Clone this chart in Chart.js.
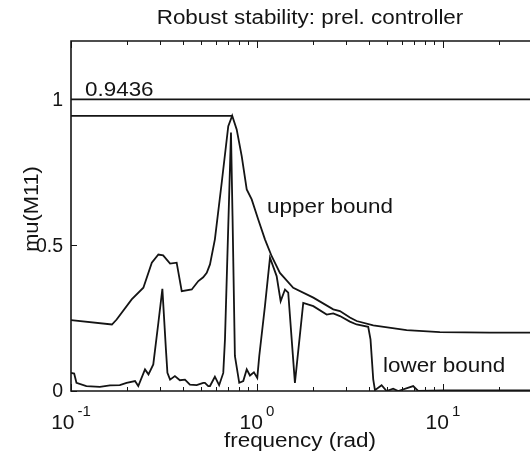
<!DOCTYPE html>
<html>
<head>
<meta charset="utf-8">
<script src="https://cdn.jsdelivr.net/npm/chart.js@4.4.1/dist/chart.umd.min.js"></script>
<style>
  html, body { margin: 0; padding: 0; background: #fff; }
  #wrap { width: 530px; height: 461px; }
</style>
</head>
<body>
<div id="wrap"><canvas id="chart" width="530" height="461"></canvas></div>
<script>
// values (frequency in rad, mu)
var upperFreq = [0.1, 0.166, 0.176, 0.212, 0.245, 0.272, 0.295, 0.313, 0.341, 0.37,
                 0.394, 0.446, 0.484, 0.514, 0.537, 0.559, 0.594, 0.648, 0.701, 0.736,
                 0.778, 0.828, 0.881, 0.937, 1.016, 1.104, 1.2, 1.329, 1.567, 2.01,
                 2.572, 2.794, 3.162, 3.436, 4.22, 6.38, 9.63, 17.9, 29.4];
var upperMu   = [0.243, 0.228, 0.245, 0.314, 0.354, 0.44, 0.468, 0.465, 0.437, 0.44,
                 0.342, 0.348, 0.377, 0.39, 0.405, 0.434, 0.52, 0.72, 0.908, 0.9436,
                 0.897, 0.805, 0.691, 0.657, 0.588, 0.52, 0.462, 0.405, 0.354, 0.32,
                 0.28, 0.274, 0.252, 0.24, 0.225, 0.209, 0.202, 0.2, 0.2];

var lowerFreq = [0.1, 0.104, 0.107, 0.121, 0.143, 0.162, 0.183, 0.199, 0.221, 0.23,
                 0.25, 0.261, 0.277, 0.295, 0.31, 0.324, 0.33, 0.341, 0.362, 0.385,
                 0.41, 0.436, 0.474, 0.514, 0.525, 0.547, 0.559, 0.594, 0.626, 0.659,
                 0.673, 0.725, 0.739, 0.761, 0.803, 0.844, 0.881, 0.917, 0.963, 1.004,
                 1.029, 1.104, 1.175, 1.276, 1.341, 1.415, 1.473, 1.6, 1.774, 2.01,
                 2.371, 2.572, 2.794, 3.162, 3.436, 3.965, 4.08, 4.22, 4.31, 4.68,
                 4.98, 5.4, 5.75, 6.92, 7.36, 10, 29.4];
var lowerMu   = [0.062, 0.06, 0.028, 0.017, 0.014, 0.019, 0.02, 0.028, 0.034, 0.017,
                 0.074, 0.057, 0.091, 0.234, 0.35, 0.142, 0.062, 0.039, 0.051, 0.037,
                 0.039, 0.022, 0.02, 0.028, 0.028, 0.017, 0.017, 0.049, 0.02, 0.062,
                 0.177, 0.886, 0.6, 0.12, 0.028, 0.034, 0.074, 0.053, 0.064, 0.045,
                 0.12, 0.291, 0.457, 0.394, 0.308, 0.348, 0.337, 0.028, 0.302, 0.291,
                 0.262, 0.266, 0.257, 0.238, 0.228, 0.22, 0.177, 0.04, 0.003, 0.02,
                 0.0, 0.008, 0.0, 0.017, 0.0, 0.002, 0.002];

// peak marker line and the mu = 1 reference
var peakFreq = [0.1, 0.736];
var peakMu = [0.9436, 0.9436];
var unityFreq = [0.1, 29.4];
var unityMu = [1, 1];

var xTicks = [0.1, 1, 10];
var xTickExp = ['-1', '0', '1'];
var yTicks = [0, 0.5, 1];
var yTickLabels = ['0', '0.5', '1'];

var ink = '#141414';
var fontName = '"Liberation Sans", Arial, sans-serif';

function toPoints(xs, ys) {
    return xs.map(function(x, i) { return { x: x, y: ys[i] }; });
}

// the scan's lettering is a bit wider than Arial, so stretch it sideways
function stretchText(ctx, text, x, y, size, align, sx) {
    ctx.save();
    ctx.font = size + 'px ' + fontName;
    ctx.textAlign = align;
    ctx.translate(x, y);
    ctx.scale(sx, 1);
    ctx.fillText(text, 0, 0);
    ctx.restore();
}

var matlabAxes = {
    id: 'matlabAxes',
    afterDraw: function(chart) {
        var ctx = chart.ctx;
        var area = chart.chartArea;
        var xs = chart.scales.x;
        var ys = chart.scales.y;

        ctx.save();
        ctx.strokeStyle = ink;
        ctx.fillStyle = ink;

        // frame: top, left, bottom (right edge falls outside the picture)
        ctx.lineWidth = 1.6;
        ctx.beginPath();
        ctx.moveTo(area.right, area.top);
        ctx.lineTo(area.left, area.top);
        ctx.lineTo(area.left, area.bottom);
        ctx.lineTo(area.right, area.bottom);
        ctx.stroke();

        // inward log ticks at bottom and top
        ctx.lineWidth = 1;
        ctx.beginPath();
        for (var d = -1; d <= 1; d++) {
            for (var m = 1; m < 10; m++) {
                var v = m * Math.pow(10, d);
                if (v > xs.max) break;
                var px = Math.round(xs.getPixelForValue(v)) + 0.5;
                var len = m === 1 ? 7 : 4;
                ctx.moveTo(px, area.bottom);
                ctx.lineTo(px, area.bottom - len);
                ctx.moveTo(px, area.top);
                ctx.lineTo(px, area.top + len);
            }
        }
        yTicks.forEach(function(t) {
            var py = Math.round(ys.getPixelForValue(t)) + 0.5;
            ctx.moveTo(area.left, py);
            ctx.lineTo(area.left + 6, py);
        });
        ctx.stroke();

        // y tick labels
        ctx.textBaseline = 'middle';
        yTicks.forEach(function(t, i) {
            stretchText(ctx, yTickLabels[i], area.left - 8, ys.getPixelForValue(t) + 1, 19.5, 'right', 1.0);
        });

        // x tick labels as 10^n
        ctx.textBaseline = 'alphabetic';
        xTicks.forEach(function(t, i) {
            var px = xs.getPixelForValue(t);
            ctx.font = '21px ' + fontName;
            var wBase = ctx.measureText('10').width;
            ctx.font = '15px ' + fontName;
            var wExp = ctx.measureText(xTickExp[i]).width;
            var x0 = px - (wBase + 3 + wExp) / 2;
            stretchText(ctx, '10', x0, 429, 21, 'left', 1.0);
            stretchText(ctx, xTickExp[i], x0 + wBase + 3, 416, 15, 'left', 1.0);
        });

        // titles and annotations
        stretchText(ctx, 'Robust stability: prel. controller', 310, 24, 19.5, 'center', 1.15);
        stretchText(ctx, 'frequency (rad)', 300, 447, 19.5, 'center', 1.15);
        stretchText(ctx, '0.9436', 85, 96, 19.5, 'left', 1.15);
        stretchText(ctx, 'upper bound', 267, 213, 19.5, 'left', 1.15);
        stretchText(ctx, 'lower bound', 383, 372, 19.5, 'left', 1.15);

        ctx.save();
        ctx.translate(38, 209);
        ctx.rotate(-Math.PI / 2);
        stretchText(ctx, 'mu(M11)', 0, 0, 19.5, 'center', 1.12);
        ctx.restore();

        ctx.restore();
    }
};

new Chart(document.getElementById('chart'), {
    type: 'line',
    data: {
        datasets: [
            { data: toPoints(unityFreq, unityMu) },
            { data: toPoints(peakFreq, peakMu) },
            { data: toPoints(upperFreq, upperMu) },
            { data: toPoints(lowerFreq, lowerMu) }
        ]
    },
    options: {
        responsive: false,
        animation: false,
        devicePixelRatio: 1,
        layout: { padding: { left: 71, top: 41, right: 0, bottom: 70 } },
        plugins: {
            legend: { display: false },
            tooltip: { enabled: false }
        },
        scales: {
            x: { type: 'logarithmic', min: 0.1, max: 29.4, display: false },
            y: { type: 'linear', min: 0, max: 1.2, display: false }
        },
        elements: {
            point: { radius: 0 },
            line: { borderWidth: 1.8, borderColor: ink, tension: 0, fill: false }
        }
    },
    plugins: [matlabAxes]
});
</script>
</body>
</html>
